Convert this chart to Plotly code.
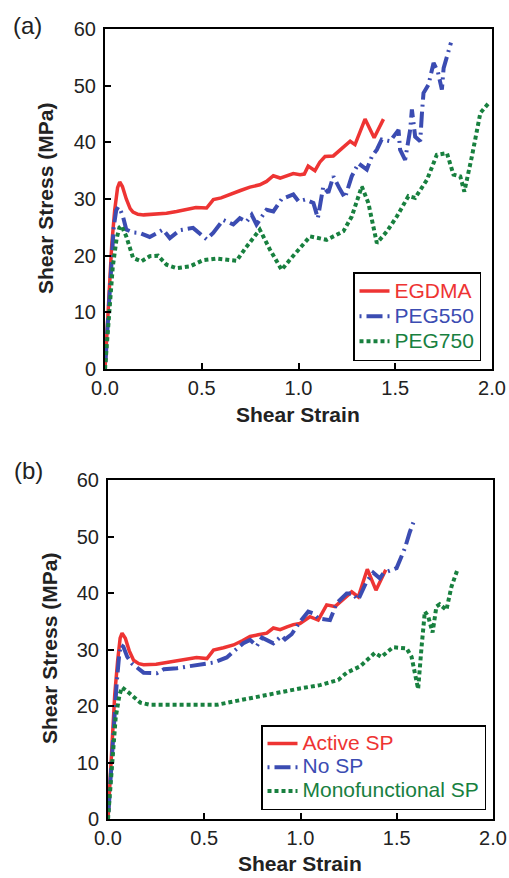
import plotly.graph_objects as go

# ---------------- data: panel (a) ----------------
egdma_x = [0, 0.01, 0.02, 0.035, 0.05, 0.065, 0.076, 0.09, 0.11, 0.13, 0.145, 0.17, 0.2, 0.25, 0.318,
           0.37, 0.42, 0.47, 0.525, 0.56, 0.6, 0.663, 0.7, 0.749, 0.8, 0.835, 0.87, 0.905, 0.94, 0.973,
           1.008, 1.03, 1.05, 1.085, 1.11, 1.137, 1.18, 1.224, 1.267, 1.292, 1.344, 1.391, 1.439]
egdma_y = [0, 6, 14, 22, 28, 32, 33.0, 32.2, 30, 28.3, 27.7, 27.3, 27.2, 27.3, 27.5,
           27.8, 28.2, 28.5, 28.4, 29.9, 30.2, 31.1, 31.5, 32.1, 32.5, 33.1, 34.1, 33.7, 34.1, 34.5,
           34.3, 34.4, 35.8, 35.0, 36.5, 37.5, 37.6, 39.0, 40.2, 39.6, 44.1, 40.8, 44.1]

peg550_x = [0, 0.015, 0.03, 0.045, 0.058, 0.068, 0.08, 0.093, 0.11, 0.145, 0.18, 0.231, 0.27, 0.30, 0.335,
            0.387, 0.455, 0.49, 0.525, 0.559, 0.611, 0.663, 0.697, 0.732, 0.758, 0.783, 0.835, 0.87, 0.913,
            0.973, 1.0, 1.034, 1.077, 1.10, 1.128, 1.154, 1.18, 1.21, 1.24, 1.275, 1.31, 1.353, 1.379, 1.405,
            1.43, 1.473, 1.517, 1.525, 1.551, 1.577, 1.586, 1.603, 1.629, 1.638, 1.646, 1.672, 1.698, 1.72,
            1.741, 1.75, 1.767, 1.788]
peg550_y = [0, 8, 18, 25, 28, 28.6, 28.0, 26.9, 24.6, 24.1, 24.0, 23.3, 24.0, 24.6, 23.1,
            24.5, 24.9, 24.0, 22.9, 24.0, 26.3, 25.5, 26.6, 26.0, 27.2, 25.5, 28.1, 27.8, 30.0,
            30.8, 29.6, 29.9, 29.3, 26.6, 32.2, 31.1, 34.0, 32.0, 30.2, 34.0, 36.3, 35.2, 37.5, 38.7,
            40.5, 40.2, 42.2, 38.7, 36.9, 42.2, 45.8, 41.0, 40.2, 45.2, 48.7, 50.2, 54.0, 52.5,
            49.3, 53.1, 55.2, 57.6]

peg750_x = [0, 0.02, 0.04, 0.06, 0.075, 0.085, 0.11, 0.145, 0.188, 0.231, 0.274, 0.318, 0.37, 0.438, 0.507,
            0.577, 0.63, 0.68, 0.732, 0.80, 0.852, 0.913, 0.956, 1.0, 1.06, 1.146, 1.232, 1.275, 1.327,
            1.361, 1.405, 1.457, 1.508, 1.568, 1.603, 1.664, 1.715, 1.767, 1.801, 1.836, 1.857, 1.896,
            1.94, 1.982]
peg750_y = [0, 10, 18, 23, 25, 25.3, 23.4, 19.6, 19.0, 19.9, 20.0, 18.4, 17.8, 18.1, 19.2,
            19.5, 19.3, 19.1, 21.6, 24.6, 21.1, 17.5, 19.3, 21.1, 23.4, 22.8, 24.3, 26.9, 32.2,
            29.3, 22.2, 24.3, 26.9, 30.5, 30.2, 33.4, 37.8, 38.1, 34.3, 34.0, 31.3, 37.5,
            45.2, 46.9]

# ---------------- data: panel (b) ----------------
active_x = [0, 0.01, 0.02, 0.035, 0.05, 0.063, 0.073, 0.09, 0.11, 0.133, 0.16, 0.185, 0.25, 0.306, 0.36,
            0.41, 0.46, 0.514, 0.548, 0.6, 0.652, 0.7, 0.738, 0.78, 0.825, 0.859, 0.894, 0.93, 0.963, 0.997,
            1.049, 1.092, 1.136, 1.179, 1.222, 1.266, 1.30, 1.347, 1.392, 1.443]
active_y = [0, 6, 14, 22, 28, 32, 32.9, 32.0, 29.8, 28.1, 27.5, 27.3, 27.4, 27.7, 28.0,
            28.3, 28.6, 28.4, 29.9, 30.3, 30.8, 31.6, 32.3, 32.6, 32.9, 33.8, 33.5, 34.0, 34.4, 34.6,
            35.8, 35.2, 37.9, 37.6, 38.8, 40.2, 39.3, 44.2, 40.5, 44.1]

nosp_x = [0, 0.015, 0.03, 0.045, 0.058, 0.067, 0.08, 0.10, 0.125, 0.15, 0.185, 0.254, 0.29, 0.358, 0.444,
          0.48, 0.548, 0.617, 0.65, 0.703, 0.738, 0.773, 0.80, 0.859, 0.902, 0.92, 0.954, 0.997, 1.04, 1.066,
          1.092, 1.153, 1.188, 1.24, 1.27, 1.30, 1.343, 1.378, 1.412, 1.43, 1.499, 1.542, 1.568, 1.594]
nosp_y = [0, 8, 17, 24, 29, 30.8, 30.5, 28.7, 27.5, 26.8, 25.9, 25.8, 26.5, 26.7, 27.1,
          27.3, 27.7, 28.6, 29.6, 31.1, 31.7, 30.6, 32.1, 31.1, 32.4, 31.8, 32.7, 34.9, 36.7, 36.4,
          35.5, 35.2, 38.2, 39.9, 39.9, 38.8, 42.0, 43.6, 42.6, 43.5, 44.4, 47.9, 50.8, 53.2]

mono_x = [0, 0.02, 0.04, 0.06, 0.073, 0.11, 0.168, 0.219, 0.3, 0.392, 0.48, 0.565, 0.652, 0.738, 0.825,
          0.911, 0.997, 1.101, 1.196, 1.24, 1.309, 1.386, 1.42, 1.481, 1.551, 1.577, 1.594, 1.611, 1.629,
          1.646, 1.663, 1.686, 1.706, 1.723, 1.758, 1.784, 1.818]
mono_y = [0, 10, 18, 22, 23.3, 22.3, 20.6, 20.2, 20.2, 20.2, 20.2, 20.2, 20.8, 21.4, 21.9,
          22.5, 23.1, 23.7, 24.6, 25.9, 27.0, 29.4, 28.7, 30.4, 30.2, 28.7, 25.8, 23.0, 30.5,
          36.7, 35.9, 33.0, 37.6, 38.0, 37.0, 41.1, 44.4]

x_ticks = [0.0, 0.5, 1.0, 1.5, 2.0]
y_ticks = [0, 10, 20, 30, 40, 50, 60]

RED = "#ee3433"
BLUE = "#3b4cb2"
GREEN = "#18803f"
FONT = "Liberation Sans, Arial, sans-serif"
BLUE_DASH = "2px,5px,16px,5px"
GREEN_DASH = "4px,3px"

W, H = 509, 878


def span(text, color):
    return f"<span style='color:{color};font-size:21px'>{text}</span>"


fig = go.Figure()

series = [
    (egdma_x, egdma_y, "EGDMA", RED, "solid", 3.5, "x", "y", "legend"),
    (peg550_x, peg550_y, "PEG550", BLUE, BLUE_DASH, 4, "x", "y", "legend"),
    (peg750_x, peg750_y, "PEG750", GREEN, GREEN_DASH, 4, "x", "y", "legend"),
    (active_x, active_y, "Active SP", RED, "solid", 3.5, "x2", "y2", "legend2"),
    (nosp_x, nosp_y, "No SP", BLUE, BLUE_DASH, 4, "x2", "y2", "legend2"),
    (mono_x, mono_y, "Monofunctional SP", GREEN, GREEN_DASH, 4, "x2", "y2", "legend2"),
]
for xs, ys, name, col, dash, wid, xa, ya, lg in series:
    assert len(xs) == len(ys), name
    fig.add_trace(go.Scatter(x=xs, y=ys, mode="lines", name=span(name, col),
                             line=dict(color=col, width=wid, dash=dash),
                             xaxis=xa, yaxis=ya, legend=lg))


def xd(l, r):
    return [l / W, r / W]


def yd(t, b):
    return [1 - b / H, 1 - t / H]


axis_common = dict(showline=True, linecolor="black", linewidth=2, mirror=True,
                   ticks="inside", ticklen=6, tickwidth=2, tickcolor="black",
                   showgrid=False, zeroline=False, automargin=False,
                   tickfont=dict(family=FONT, size=20, color="#222"))

fig.update_layout(
    template="none",
    width=W, height=H,
    margin=dict(l=0, r=0, t=0, b=0, pad=0),
    paper_bgcolor="white", plot_bgcolor="white",
    font=dict(family=FONT, color="#222"),
    xaxis=dict(domain=xd(105, 492), anchor="y", range=[0, 2], tickvals=x_ticks,
               tickformat=".1f", ticklabelstandoff=0, **axis_common),
    yaxis=dict(domain=yd(29, 369), anchor="x", range=[0, 60], tickvals=y_ticks,
               ticklabelstandoff=3, **axis_common),
    xaxis2=dict(domain=xd(108, 493), anchor="y2", range=[0, 2], tickvals=x_ticks,
                tickformat=".1f", ticklabelstandoff=0, **axis_common),
    yaxis2=dict(domain=yd(480, 819), anchor="x2", range=[0, 60], tickvals=y_ticks,
                ticklabelstandoff=3, **axis_common),
    legend=dict(x=481 / W, y=1 - 272 / H, xanchor="right", yanchor="top",
                bordercolor="black", borderwidth=1.5, bgcolor="white",
                font=dict(family=FONT, size=17), tracegroupgap=0, itemwidth=30),
    legend2=dict(x=486 / W, y=1 - 725 / H, xanchor="right", yanchor="top",
                 bordercolor="black", borderwidth=1.5, bgcolor="white",
                 font=dict(family=FONT, size=16), tracegroupgap=0, itemwidth=30),
)

annos = [
    ("(a)", 27, 26, 24, 0),
    ("(b)", 28, 470, 24, 0),
    ("<b>Shear Strain</b>", 298, 414, 21, 0),
    ("<b>Shear Strain</b>", 300, 863, 21, 0),
    ("<b>Shear Stress (MPa)</b>", 45, 199, 21, -90),
    ("<b>Shear Stress (MPa)</b>", 49, 649, 21, -90),
]
for text, px, py, size, ang in annos:
    fig.add_annotation(xref="paper", yref="paper", showarrow=False,
                       xanchor="center", yanchor="middle",
                       text=text, x=px / W, y=1 - py / H, textangle=ang,
                       font=dict(family=FONT, color="#222", size=size))

fig.write_html("out.html", config={"displayModeBar": False},
               post_script="document.body.style.margin='0';document.body.style.overflow='hidden';")
